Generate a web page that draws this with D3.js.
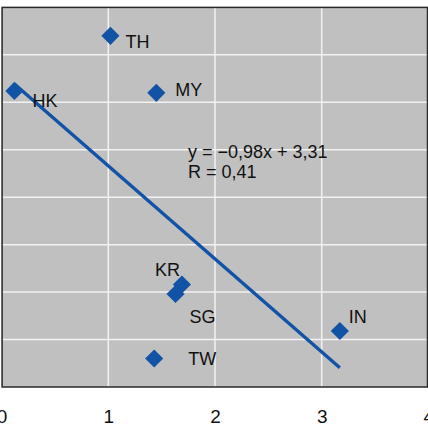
<!DOCTYPE html>
<html>
<head>
<meta charset="utf-8">
<script src="https://cdn.jsdelivr.net/npm/d3@7"></script>
<style>
  html, body { margin: 0; padding: 0; background: #ffffff; }
  svg { display: block; }
  text { font-family: "Liberation Sans", Arial, sans-serif; }
</style>
</head>
<body>
<svg id="chart" width="428" height="427"></svg>
<script>
// Country codes and their (x, y) values
const countries = ["TH", "HK", "MY", "KR", "SG", "TW", "IN"];
const xValues   = [1.02, 0.12, 1.45, 1.69, 1.63, 1.43, 3.17];
const yValues   = [3.70, 3.12, 3.10, 1.08, 0.98, 0.30, 0.59];

// Linear trend line (as stated in the annotation)
const slope = -0.98;
const intercept = 3.31;
const equationLines = ["y = \u22120,98x + 3,31", "R = 0,41"];

// Axis ticks
const xTicks = [0, 1, 2, 3, 4];
const yGrid = [0, 0.5, 1, 1.5, 2, 2.5, 3, 3.5, 4];

// Label offsets from each marker (pixels)
const labelOffsets = {
  TH: [15, 12], HK: [18, 16], MY: [19, 3], KR: [-27, -9],
  SG: [14, 29], TW: [34, 6], IN: [9, -8]
};

const svg = d3.select("#chart");
const plot = { left: 1.6, right: 427.5, top: 7.4, bottom: 387 };

const x = d3.scaleLinear().domain([0, 4]).range([plot.left, 428.4]);
const y = d3.scaleLinear().domain([0, 4]).range([plot.bottom, plot.top]);

// Plot background
svg.append("rect")
  .attr("x", plot.left).attr("y", plot.top)
  .attr("width", plot.right - plot.left).attr("height", plot.bottom - plot.top)
  .attr("fill", "#c0c0c0");

// Gridlines
svg.append("g")
  .selectAll("line.h").data(yGrid.slice(1, -1)).join("line")
  .attr("x1", plot.left).attr("x2", plot.right)
  .attr("y1", d => y(d)).attr("y2", d => y(d))
  .attr("stroke", "#f2f2f2").attr("stroke-width", 1.5);
svg.append("g")
  .selectAll("line.v").data(xTicks.slice(1, -1)).join("line")
  .attr("x1", d => x(d)).attr("x2", d => x(d))
  .attr("y1", plot.top).attr("y2", plot.bottom)
  .attr("stroke", "#f2f2f2").attr("stroke-width", 1.5);

// Frame
svg.append("rect")
  .attr("x", plot.left + 0.5).attr("y", plot.top)
  .attr("width", plot.right - plot.left - 0.5).attr("height", plot.bottom - plot.top)
  .attr("fill", "none").attr("stroke", "#2a2a2a").attr("stroke-width", 1.5);

// X axis labels
const xAxis = d3.axisBottom(x).tickValues(xTicks).tickSize(0).tickPadding(23)
  .tickFormat(d3.format("d"));
const gx = svg.append("g").attr("transform", `translate(0,${plot.bottom})`).call(xAxis);
gx.attr("font-size", 19).attr("font-family", "Liberation Sans, Arial, sans-serif");
gx.select(".domain").remove();
gx.selectAll("text").attr("fill", "#111");

const blue = "#1353a6";
const points = countries.map((c, i) => ({ name: c, x: xValues[i], y: yValues[i] }));

// Trend line over the data range
const xMin = d3.min(xValues), xMax = d3.max(xValues);
svg.append("line")
  .attr("x1", x(xMin)).attr("y1", y(slope * xMin + intercept))
  .attr("x2", x(xMax)).attr("y2", y(slope * xMax + intercept))
  .attr("stroke", blue).attr("stroke-width", 3.4);

// Diamond markers
const diamond = d3.symbol().type(d3.symbolSquare).size(165);
svg.append("g").selectAll("path").data(points).join("path")
  .attr("d", diamond)
  .attr("transform", d => `translate(${x(d.x)},${y(d.y)}) rotate(45)`)
  .attr("fill", blue);

// Point labels
svg.append("g").selectAll("text").data(points).join("text")
  .attr("x", d => x(d.x) + labelOffsets[d.name][0])
  .attr("y", d => y(d.y) + labelOffsets[d.name][1])
  .attr("font-size", 18).attr("fill", "#111")
  .text(d => d.name);

// Equation annotation
svg.append("text")
  .attr("x", 188).attr("y", 158)
  .attr("font-size", 18).attr("fill", "#111")
  .selectAll("tspan").data(equationLines).join("tspan")
  .attr("x", 188).attr("dy", (d, i) => i === 0 ? 0 : 20)
  .text(d => d);
</script>
</body>
</html>
